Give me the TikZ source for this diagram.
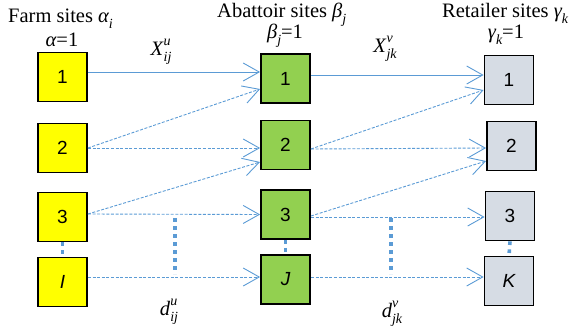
\documentclass[tikz,border=0pt]{standalone}
\usepackage{fontspec}
\setmainfont{Liberation Serif}
\newfontfamily\boxfont{Liberation Sans}
\usetikzlibrary{arrows.meta}
\definecolor{farmyel}{HTML}{FFFF00}
\definecolor{abgreen}{HTML}{92D050}
\definecolor{retgray}{HTML}{D6DCE4}
\definecolor{flowblue}{HTML}{5B9BD5}
\newcommand\supsubx[3]{\textit{#1}\makebox[0pt][l]{\raisebox{0.48em}{\fontsize{14}{14}\selectfont\itshape #2}}\raisebox{-0.32em}{\fontsize{14}{14}\selectfont\itshape #3}}
\newcommand\subx[1]{\raisebox{-0.3em}{\fontsize{14}{14}\selectfont\itshape #1}}
\begin{document}
\begin{tikzpicture}[x=1pt,y=-1pt,
  sitebox/.style={draw=black,line width=1.8pt,minimum width=49pt,minimum height=49pt,inner sep=0pt,font=\boxfont\fontsize{19}{19}\selectfont},
  farm/.style={sitebox,fill=farmyel},
  abat/.style={sitebox,fill=abgreen},
  ret/.style={sitebox,fill=retgray},
  flow/.style={draw=flowblue,line width=0.9pt,-{Straight Barb[length=16pt,width=18pt,line width=0.9pt]}},
  dflow/.style={flow,dash pattern=on 3pt off 1.6pt},
  gap/.style={draw=flowblue,line width=3.6pt,dash pattern=on 3.6pt off 4.4pt},
  lbl/.style={font=\fontsize{20.5}{20.5}\selectfont,inner sep=0pt}]
\useasboundingbox (0,0) rectangle (572,327);
% farm
\node[farm] (f1) at (62.5,77) {1};
\node[farm] (f2) at (62.5,148) {2};
\node[farm] (f3) at (62.5,217) {3};
\node[farm] (fI) at (62.5,282) {\itshape I};
% abattoir
\node[abat] (a1) at (285.5,78.5) {1};
\node[abat] (a2) at (285.5,145) {2};
\node[abat] (a3) at (285.5,214.5) {3};
\node[abat] (aJ) at (285.5,279.5) {\itshape J};
% retailer
\node[ret] (r1) at (509,80) {1};
\node[ret] (r2) at (511.5,146) {2};
\node[ret] (r3) at (510,216) {3};
\node[ret] (rK) at (509,281) {\itshape K};
% titles
\node[lbl,anchor=base west] (tf) at (8,22) {Farm sites {\itshape α}\subx{i}};
\node[lbl,anchor=base] (tf1) at (62,46) {{\itshape α}=1};
\node[lbl,anchor=base west] (ta) at (217,17) {Abattoir sites {\itshape β}\subx{j}};
\node[lbl,anchor=base] (ta1) at (285,38) {{\itshape β}\subx{j}=1};
\node[lbl,anchor=base west] (tr) at (442,17) {Retailer sites {\itshape γ}\subx{k}};
\node[lbl,anchor=base] (tr1) at (506,38) {{\itshape γ}\subx{k}=1};
% flow labels
\node[lbl,anchor=base] (xu) at (161,55) {\supsubx{X}{u}{ij}};
\node[lbl,anchor=base] (xv) at (385,52) {\supsubx{X}{v}{jk}};
\node[lbl,anchor=base] (du) at (169,315) {\supsubx{d}{u}{ij}};
\node[lbl,anchor=base] (dv) at (392,317) {\supsubx{d}{v}{jk}};
% farm -> abattoir
\draw[flow] ([yshift=5pt]f1.east) -- ([yshift=6.5pt]a1.west);
\draw[dflow] (f2.east) -- ([yshift=-10.5pt]a1.west);
\draw[dflow] (f2.east) -- ([yshift=-3pt]a2.west);
\draw[dflow] ([yshift=3pt]f3.east) -- ([yshift=-17pt]a2.west);
\draw[dflow] ([yshift=3pt]f3.east) -- (a3.west);
\draw[dflow] ([yshift=5pt]fI.east) -- ([yshift=2.5pt]aJ.west);
% abattoir -> retailer
\draw[flow] ([yshift=3.5pt]a1.east) -- ([yshift=5pt]r1.west);
\draw[dflow] ([yshift=-4pt]a2.east) -- ([yshift=-10pt]r1.west);
\draw[dflow] ([yshift=-4pt]a2.east) -- ([yshift=-2pt]r2.west);
\draw[dflow] ([yshift=-1.5pt]a3.east) -- ([yshift=-15pt]r2.west);
\draw[dflow] ([yshift=-2.5pt]a3.east) -- ([yshift=-1pt]r3.west);
\draw[dflow] ([yshift=2.5pt]aJ.east) -- ([yshift=4pt]rK.west);
% ellipsis gaps
\draw[gap] (f3.south) -- (fI.north);
\draw[gap] (a3.south) -- (aJ.north);
\draw[gap] (r3.south) -- (rK.north);
\coordinate (m1t) at (175,218);
\coordinate (m1b) at (175,274);
\coordinate (m2t) at (391,218);
\coordinate (m2b) at (391,274);
\draw[gap] (m1t) -- (m1b);
\draw[gap] (m2t) -- (m2b);
\end{tikzpicture}
\end{document}
